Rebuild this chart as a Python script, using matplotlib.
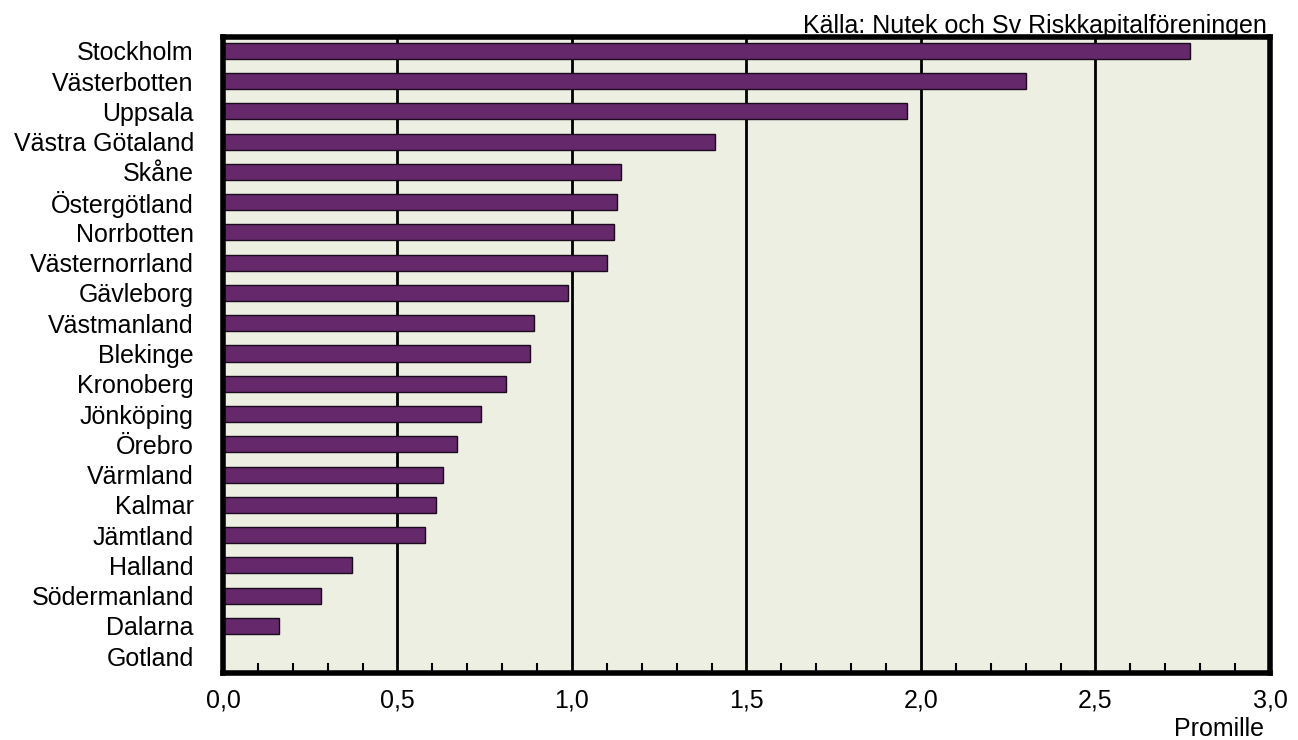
import numpy as np
import matplotlib.pyplot as plt
from matplotlib.ticker import MultipleLocator, FuncFormatter

# Riskkapital per län, promille
lan = ["Stockholm", "Västerbotten", "Uppsala", "Västra Götaland", "Skåne",
       "Östergötland", "Norrbotten", "Västernorrland", "Gävleborg", "Västmanland",
       "Blekinge", "Kronoberg", "Jönköping", "Örebro", "Värmland", "Kalmar",
       "Jämtland", "Halland", "Södermanland", "Dalarna", "Gotland"]
promille = [2.77, 2.30, 1.96, 1.41, 1.14, 1.13, 1.12, 1.10, 0.99, 0.89,
            0.88, 0.81, 0.74, 0.67, 0.63, 0.61, 0.58, 0.37, 0.28, 0.16, 0.0]
xticks = [0.0, 0.5, 1.0, 1.5, 2.0, 2.5, 3.0]

plt.rcParams["font.family"] = ["Liberation Sans", "DejaVu Sans"]

fig = plt.figure(figsize=(12.98, 7.40), dpi=100)
ax = fig.add_axes([0.1718, 0.0905, 0.8066, 0.8595])
ax.set_facecolor("#EEEFE3")

y = np.arange(len(lan))
ax.barh(y, promille, height=0.53, color="#65296B", edgecolor="#1a0a1c",
        linewidth=1.0, zorder=3)

ax.set_xlim(0, 3.0)
ax.set_ylim(20.56, -0.46)
ax.set_xticks(xticks)
ax.xaxis.set_major_formatter(FuncFormatter(lambda v, p: f"{v:.1f}".replace(".", ",")))
ax.xaxis.set_minor_locator(MultipleLocator(0.1))
ax.tick_params(axis="x", which="major", length=0, pad=11, labelsize=18)
ax.tick_params(axis="x", which="minor", direction="in", length=7, width=1.5, color="black")
ax.set_yticks(y)
ax.set_yticklabels(lan, fontsize=18)
ax.tick_params(axis="y", length=0, pad=21)
ax.grid(axis="x", which="major", color="black", linewidth=2, zorder=1)
ax.set_axisbelow(True)

for s in ax.spines.values():
    s.set_linewidth(4)
    s.set_color("black")
    s.set_zorder(5)

# källtext under ramen, som i originalet
fig.text(0.976, 0.9554, "Källa: Nutek och Sv Riskkapitalföreningen", ha="right",
         va="baseline", fontsize=18, zorder=-1)
fig.text(0.9738, 0.005, "Promille", ha="right", va="baseline", fontsize=18)

fig.savefig("out.png", dpi=100)
